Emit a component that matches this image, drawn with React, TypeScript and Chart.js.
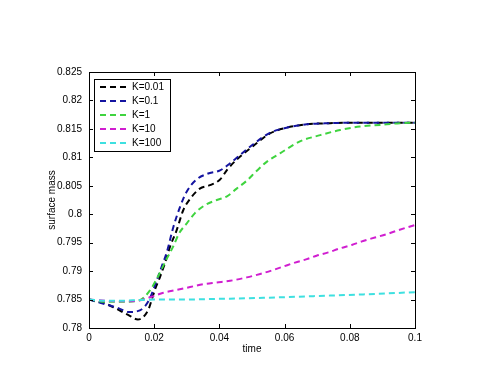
import React, { useEffect, useRef } from "react";
import { Chart, registerables } from "chart.js";

Chart.register(...registerables);

const seriesNames = ["K=0.01", "K=0.1", "K=1", "K=10", "K=100"];
const seriesColors = ["#000000", "#1414a0", "#3fd43f", "#d01ed0", "#3ee0e0"];

const xK001 = [0, 0.005, 0.008, 0.012, 0.015, 0.0182, 0.0192, 0.0202, 0.0218, 0.0233, 0.0248, 0.0269, 0.0289, 0.031, 0.034, 0.0371, 0.0402, 0.0425, 0.0453, 0.0504, 0.0555, 0.0606, 0.0668, 0.0739, 0.085, 0.1];
const yK001 = [0.785, 0.7843, 0.7835, 0.7823, 0.7815, 0.7832, 0.7849, 0.7867, 0.789, 0.7914, 0.7942, 0.7972, 0.8007, 0.8027, 0.8045, 0.8051, 0.8061, 0.8079, 0.8096, 0.812, 0.8142, 0.8152, 0.8158, 0.816, 0.8161, 0.8161];

const xK01 = [0, 0.0055, 0.009, 0.0122, 0.0156, 0.0183, 0.0208, 0.0223, 0.0238, 0.0259, 0.028, 0.03, 0.033, 0.0363, 0.0402, 0.0425, 0.0463, 0.0504, 0.0555, 0.0606, 0.0668, 0.0739, 0.085, 0.1];
const yK01 = [0.785, 0.7841, 0.7835, 0.7828, 0.7831, 0.7848, 0.7884, 0.7908, 0.7932, 0.7978, 0.8014, 0.804, 0.8061, 0.8071, 0.8077, 0.8086, 0.8104, 0.8123, 0.8143, 0.8152, 0.8158, 0.816, 0.8161, 0.8161];

const xK1 = [0, 0.005, 0.011, 0.0156, 0.0187, 0.0212, 0.0237, 0.0258, 0.0276, 0.03, 0.0325, 0.0356, 0.0392, 0.0422, 0.0453, 0.0484, 0.0514, 0.0545, 0.0586, 0.0647, 0.0709, 0.077, 0.0831, 0.0893, 0.0954, 0.1];
const yK1 = [0.785, 0.7846, 0.7846, 0.7849, 0.7866, 0.7891, 0.792, 0.7943, 0.7966, 0.7984, 0.8002, 0.8016, 0.8025, 0.8031, 0.8045, 0.8059, 0.8076, 0.8092, 0.8107, 0.8128, 0.8139, 0.8148, 0.8154, 0.8157, 0.816, 0.8161];

const xK10 = [0, 0.005, 0.01, 0.015, 0.0192, 0.0228, 0.0269, 0.031, 0.0351, 0.0392, 0.0433, 0.0484, 0.0525, 0.056, 0.0596, 0.0632, 0.0668, 0.0698, 0.0734, 0.077, 0.0806, 0.0841, 0.0877, 0.0913, 0.0949, 0.1];
const yK10 = [0.785, 0.7848, 0.7847, 0.7848, 0.7855, 0.7862, 0.7867, 0.7872, 0.7877, 0.788, 0.7883, 0.7889, 0.7895, 0.7901, 0.7908, 0.7915, 0.7921, 0.7927, 0.7933, 0.794, 0.7946, 0.7953, 0.7959, 0.7965, 0.7972, 0.7981];

const xK100 = [0, 0.005, 0.01, 0.015, 0.02, 0.028, 0.038, 0.0535, 0.0688, 0.0841, 0.1];
const yK100 = [0.785, 0.7848, 0.7848, 0.7849, 0.785, 0.785, 0.7851, 0.7853, 0.7856, 0.7859, 0.7863];

const seriesX = [xK001, xK01, xK1, xK10, xK100];
const seriesY = [yK001, yK01, yK1, yK10, yK100];

const xTicks = [0, 0.02, 0.04, 0.06, 0.08, 0.1];
const xTickLabels = ["0", "0.02", "0.04", "0.06", "0.08", "0.1"];
const yTicks = [0.78, 0.785, 0.79, 0.795, 0.8, 0.805, 0.81, 0.815, 0.82, 0.825];
const yTickLabels = ["0.78", "0.785", "0.79", "0.795", "0.8", "0.805", "0.81", "0.815", "0.82", "0.825"];

const xTitle = "time";
const yTitle = "surface mass";

const FONT = "'Liberation Sans', Arial, sans-serif";

const framePlugin = {
  id: "matlabFrame",
  afterDatasetsDraw(chart: any) {
    const { ctx, chartArea: a, scales } = chart;
    ctx.save();
    ctx.strokeStyle = "#000";
    ctx.lineWidth = 1;
    ctx.setLineDash([]);
    ctx.strokeRect(a.left + 0.5, a.top + 0.5, a.right - a.left, a.bottom - a.top);
    const tl = 4;
    ctx.beginPath();
    xTicks.forEach((v) => {
      const px = Math.round(scales.x.getPixelForValue(v)) + 0.5;
      ctx.moveTo(px, a.bottom);
      ctx.lineTo(px, a.bottom - tl);
      ctx.moveTo(px, a.top);
      ctx.lineTo(px, a.top + tl);
    });
    yTicks.forEach((v) => {
      const py = Math.round(scales.y.getPixelForValue(v)) + 0.5;
      ctx.moveTo(a.left, py);
      ctx.lineTo(a.left + tl, py);
      ctx.moveTo(a.right, py);
      ctx.lineTo(a.right - tl, py);
    });
    ctx.stroke();

    // legend box
    const bx = 94, by = 79, bw = 76, bh = 72;
    ctx.fillStyle = "#fff";
    ctx.fillRect(bx, by, bw, bh);
    ctx.strokeStyle = "#000";
    ctx.strokeRect(bx + 0.5, by + 0.5, bw, bh);
    ctx.font = `10px ${FONT}`;
    ctx.textBaseline = "middle";
    ctx.textAlign = "left";
    seriesNames.forEach((name, i) => {
      const y = 87 + i * 14;
      ctx.strokeStyle = seriesColors[i];
      ctx.lineWidth = 2;
      ctx.setLineDash([6, 4]);
      ctx.beginPath();
      ctx.moveTo(100, y);
      ctx.lineTo(130, y);
      ctx.stroke();
      ctx.setLineDash([]);
      ctx.fillStyle = "#000";
      ctx.fillText(name, 132, y + 0.5);
    });
    ctx.restore();
  },
};

export default function App() {
  const ref = useRef<HTMLCanvasElement>(null);
  useEffect(() => {
    if (!ref.current) return;
    const datasets = seriesNames.map((name, i) => ({
      label: name,
      data: seriesX[i].map((x, j) => ({ x, y: seriesY[i][j] })),
      borderColor: seriesColors[i],
      backgroundColor: seriesColors[i],
      borderWidth: 2,
      borderDash: [6, 4],
      pointRadius: 0,
      fill: false,
      cubicInterpolationMode: "monotone" as const,
      order: 5 - i,
    }));
    const chart = new Chart(ref.current, {
      type: "line",
      data: { datasets },
      options: {
        animation: false,
        responsive: false,
        layout: { padding: { left: 0, right: 76, top: 72, bottom: 0 } },
        plugins: { legend: { display: false }, tooltip: { enabled: false } },
        scales: {
          x: {
            type: "linear",
            min: 0,
            max: 0.1,
            afterBuildTicks: (s: any) => {
              s.ticks = xTicks.map((v) => ({ value: v }));
            },
            afterFit: (s: any) => {
              s.height = 52;
            },
            ticks: {
              autoSkip: false,
              maxRotation: 0,
              padding: 4,
              color: "#000",
              font: { family: FONT, size: 10 },
              callback: (_v: any, i: number) => xTickLabels[i],
            },
            grid: { display: false, drawTicks: false },
            border: { display: false },
            title: {
              display: true,
              text: xTitle,
              color: "#000",
              font: { family: FONT, size: 10 },
              padding: { top: 0, bottom: 25 },
            },
          },
          y: {
            type: "linear",
            min: 0.78,
            max: 0.825,
            afterBuildTicks: (s: any) => {
              s.ticks = yTicks.map((v) => ({ value: v }));
            },
            afterFit: (s: any) => {
              s.width = 89;
            },
            ticks: {
              autoSkip: false,
              padding: 7,
              color: "#000",
              font: { family: FONT, size: 10 },
              callback: (_v: any, i: number) => yTickLabels[i],
            },
            grid: { display: false, drawTicks: false },
            border: { display: false },
            title: {
              display: true,
              text: yTitle,
              color: "#000",
              font: { family: FONT, size: 10 },
              padding: { top: 46, bottom: 0 },
            },
          },
        },
      },
      plugins: [framePlugin],
    });
    return () => chart.destroy();
  }, []);
  return (
    <div style={{ position: "absolute", left: 0, top: 0, width: 491, height: 380, background: "#fff" }}>
      <canvas ref={ref} width={491} height={380} style={{ width: 491, height: 380, display: "block" }} />
    </div>
  );
}
